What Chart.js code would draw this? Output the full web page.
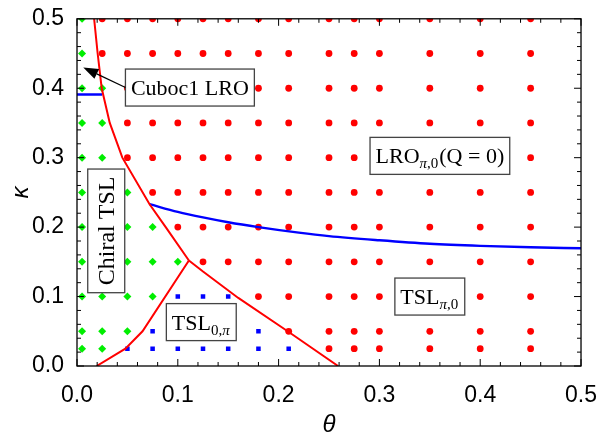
<!DOCTYPE html>
<html><head><meta charset="utf-8">
<script src="https://cdn.jsdelivr.net/npm/chart.js@4"></script>
<style>html,body{margin:0;padding:0;background:#fff}</style>
</head><body>
<canvas id="c" width="605" height="440"></canvas>
<script>
// ---- axis ticks ----
const thetaTicks = [0, 0.1, 0.2, 0.3, 0.4, 0.5];
const kappaTicks = [0, 0.1, 0.2, 0.3, 0.4, 0.5];

// ---- phase boundaries (theta, kappa) ----
const boundaryLeftTheta  = [0.017, 0.0205, 0.0245, 0.0325, 0.045, 0.072, 0.088, 0.111];
const boundaryLeftKappa  = [0.5, 0.45, 0.4, 0.35, 0.3, 0.233, 0.2, 0.152];
const boundaryLowTheta   = [0.0195, 0.048, 0.065, 0.111];
const boundaryLowKappa   = [0, 0.025, 0.05, 0.152];
const boundaryRightTheta = [0.111, 0.125, 0.16, 0.209, 0.259];
const boundaryRightKappa = [0.152, 0.136, 0.098, 0.05, 0];
const cubocTheta = [0, 0.025];
const cubocKappa = [0.391, 0.391];
const lroTheta = [0.072, 0.1, 0.125, 0.15, 0.18, 0.22, 0.25, 0.3, 0.35, 0.4, 0.45, 0.5];
const lroKappa = [0.233, 0.222, 0.214, 0.207, 0.200, 0.192, 0.187, 0.181, 0.176, 0.173, 0.171, 0.1695];

// ---- sampled parameter points ----
const thetaGrid = [0.005, 0.025, 0.05, 0.075, 0.1, 0.125, 0.15, 0.18, 0.21, 0.25, 0.275, 0.3, 0.35, 0.4, 0.45];
const kappaGrid = [0.025, 0.05, 0.1, 0.15, 0.2, 0.25, 0.3, 0.35, 0.4, 0.45, 0.5];
// per kappa row: number of chiral TSL points (from left), then TSL(0,pi) points, rest LRO/TSL(pi,0)
const chiralCount = [2, 3, 4, 5, 4, 3, 2, 2, 2, 1, 1];
const tsl0piCount = [7, 5, 3, 0, 0, 0, 0, 0, 0, 0, 0];

// ---- annotations ----
const labelMain   = ['Cuboc1 LRO', 'LRO', 'TSL', 'TSL', 'Chiral TSL'];
const labelSub    = ['', 'π,0', '0,π', 'π,0', ''];
const labelTail   = ['', '(Q = 0)', '', '', ''];
const labelTheta  = [0.112, 0.36, 0.1233, 0.35, 0.029];
const labelKappa  = [0.401, 0.3026, 0.0632, 0.1, 0.1946];
const labelVertical = [false, false, false, false, true];
const arrowTipTheta = 0.0062, arrowTipKappa = 0.43;

const chiralPts = [], tsl0Pts = [], redPts = [];
kappaGrid.forEach((k, i) => {
  thetaGrid.forEach((t, j) => {
    const p = {x: t, y: k};
    if (j < chiralCount[i]) chiralPts.push(p);
    else if (j < chiralCount[i] + tsl0piCount[i]) tsl0Pts.push(p);
    else redPts.push(p);
  });
});
const pts = (xs, ys) => xs.map((x, i) => ({x: x, y: ys[i]}));

const lineDs = (data, color, w, smooth) => ({
  type: 'line', data: data, showLine: true, borderColor: color, borderWidth: w,
  pointRadius: 0, fill: false, tension: 0, clip: 0,
  cubicInterpolationMode: smooth ? 'monotone' : 'default'
});

const serif = '"Liberation Serif", "Times New Roman", serif';

const annot = {
  id: 'annot',
  afterDatasetsDraw(chart) {
    const {ctx, chartArea: a, scales: {x, y}} = chart;
    ctx.save();
    // frame
    ctx.strokeStyle = '#000';
    ctx.lineWidth = 1.3;
    ctx.strokeRect(a.left, a.top, a.right - a.left, a.bottom - a.top);
    // inward ticks (major + minor) on all sides
    ctx.lineWidth = 1;
    for (let i = 0; i < thetaTicks.length; i++) {
      for (let s = 0; s < 5; s++) {
        if (i === thetaTicks.length - 1 && s > 0) break;
        const step = i < thetaTicks.length - 1 ? (thetaTicks[i + 1] - thetaTicks[i]) / 5 : 0;
        const tv = thetaTicks[i] + s * step;
        const kstep = i < kappaTicks.length - 1 ? (kappaTicks[i + 1] - kappaTicks[i]) / 5 : 0;
        const kv = kappaTicks[i] + s * kstep;
        const L = s === 0 ? 7 : 4;
        const px = x.getPixelForValue(tv), py = y.getPixelForValue(kv);
        ctx.beginPath();
        ctx.moveTo(px, a.bottom); ctx.lineTo(px, a.bottom - L);
        ctx.moveTo(px, a.top); ctx.lineTo(px, a.top + L);
        ctx.moveTo(a.left, py); ctx.lineTo(a.left + L, py);
        ctx.moveTo(a.right, py); ctx.lineTo(a.right - L, py);
        ctx.stroke();
      }
    }
    // labels
    let cubocBox = null;
    for (let i = 0; i < labelMain.length; i++) {
      const size = labelVertical[i] ? 24 : 22;
      const subSize = 15;
      const mainFont = size + 'px ' + serif;
      ctx.font = mainFont;
      const wMain = ctx.measureText(labelMain[i]).width;
      let wSub = 0;
      for (const ch of labelSub[i]) {
        ctx.font = (ch === 'π' ? 'italic ' : '') + subSize + 'px ' + serif;
        wSub += ctx.measureText(ch).width;
      }
      ctx.font = mainFont;
      const wTail = ctx.measureText(labelTail[i]).width;
      const total = wMain + wSub + wTail + (wSub ? 1 : 0);
      const padX = labelVertical[i] ? 7.5 : 5.5;
      const bw = total + 2 * padX, bh = 37;
      const cx = x.getPixelForValue(labelTheta[i]);
      const cy = y.getPixelForValue(labelKappa[i]);
      ctx.save();
      ctx.translate(cx, cy);
      if (labelVertical[i]) ctx.rotate(-Math.PI / 2);
      ctx.fillStyle = '#fff';
      ctx.fillRect(-bw / 2, -bh / 2, bw, bh);
      ctx.strokeStyle = '#444';
      ctx.lineWidth = 1.3;
      ctx.strokeRect(-bw / 2, -bh / 2, bw, bh);
      ctx.fillStyle = '#000';
      ctx.textBaseline = 'alphabetic';
      ctx.textAlign = 'left';
      let tx = -total / 2;
      const base = size * 0.34;
      ctx.font = mainFont;
      ctx.fillText(labelMain[i], tx, base);
      tx += wMain;
      for (const ch of labelSub[i]) {
        ctx.font = (ch === 'π' ? 'italic ' : '') + subSize + 'px ' + serif;
        ctx.fillText(ch, tx, base + 5);
        tx += ctx.measureText(ch).width;
      }
      if (wSub) tx += 1;
      ctx.font = mainFont;
      ctx.fillText(labelTail[i], tx, base);
      ctx.restore();
      if (i === 0) cubocBox = {l: cx - bw / 2, cy: cy};
    }
    // arrow
    const tipX = x.getPixelForValue(arrowTipTheta), tipY = y.getPixelForValue(arrowTipKappa);
    const ang = Math.atan2(tipY - cubocBox.cy, tipX - cubocBox.l);
    const hl = 15, hw = 5.5;
    const bx = tipX - hl * Math.cos(ang), by = tipY - hl * Math.sin(ang);
    ctx.strokeStyle = '#000';
    ctx.lineWidth = 1.2;
    ctx.beginPath();
    ctx.moveTo(cubocBox.l, cubocBox.cy);
    ctx.lineTo(bx, by);
    ctx.stroke();
    ctx.fillStyle = '#000';
    ctx.beginPath();
    ctx.moveTo(tipX, tipY);
    ctx.lineTo(bx + hw * Math.sin(ang), by - hw * Math.cos(ang));
    ctx.lineTo(bx - hw * Math.sin(ang), by + hw * Math.cos(ang));
    ctx.closePath();
    ctx.fill();
    ctx.restore();
  }
};

const tickFont = {family: '"Liberation Sans", Arial, sans-serif', size: 23};
const titleFont = {family: '"Liberation Sans", Arial, sans-serif', size: 24, style: 'italic'};

new Chart(document.getElementById('c'), {
  type: 'scatter',
  data: {
    datasets: [
      lineDs(pts(boundaryLeftTheta, boundaryLeftKappa), '#ff0000', 2),
      lineDs(pts(boundaryLowTheta, boundaryLowKappa), '#ff0000', 2),
      lineDs(pts(boundaryRightTheta, boundaryRightKappa), '#ff0000', 2),
      lineDs(pts(cubocTheta, cubocKappa), '#0000ff', 2.4),
      lineDs(pts(lroTheta, lroKappa), '#0000ff', 2.4, true),
      {data: redPts, pointStyle: 'circle', pointRadius: 3.4, backgroundColor: '#ff0000', borderWidth: 0, clip: 0},
      {data: chiralPts, pointStyle: 'rectRot', pointRadius: 4, backgroundColor: '#00ee00', borderWidth: 0, clip: 0},
      {data: tsl0Pts, pointStyle: 'rect', pointRadius: 3.2, backgroundColor: '#0000ff', borderWidth: 0, clip: 0}
    ]
  },
  options: {
    responsive: false,
    devicePixelRatio: 1,
    animation: false,
    events: [],
    layout: {padding: {top: 14, right: 18, left: 0, bottom: 0}},
    plugins: {legend: {display: false}, tooltip: {enabled: false}},
    scales: {
      x: {
        type: 'linear', min: 0, max: 0.5,
        afterFit(s) { s.height = 74; },
        afterBuildTicks(s) { s.ticks = thetaTicks.map(v => ({value: v})); },
        grid: {display: false},
        border: {display: false},
        ticks: {font: tickFont, color: '#000', padding: 8, maxRotation: 0, callback: v => v.toFixed(1)},
        title: {display: true, text: 'θ', font: titleFont, color: '#000', padding: {top: 0, bottom: 0}}
      },
      y: {
        type: 'linear', min: 0, max: 0.5,
        afterFit(s) { s.width = 77; },
        afterBuildTicks(s) { s.ticks = kappaTicks.map(v => ({value: v})); },
        grid: {display: false},
        border: {display: false},
        ticks: {font: tickFont, color: '#000', padding: 5, callback: v => v.toFixed(1)},
        title: {display: true, text: 'κ', font: titleFont, color: '#000', padding: {top: 7, bottom: 0}}
      }
    }
  },
  plugins: [annot]
});
</script>
</body></html>
